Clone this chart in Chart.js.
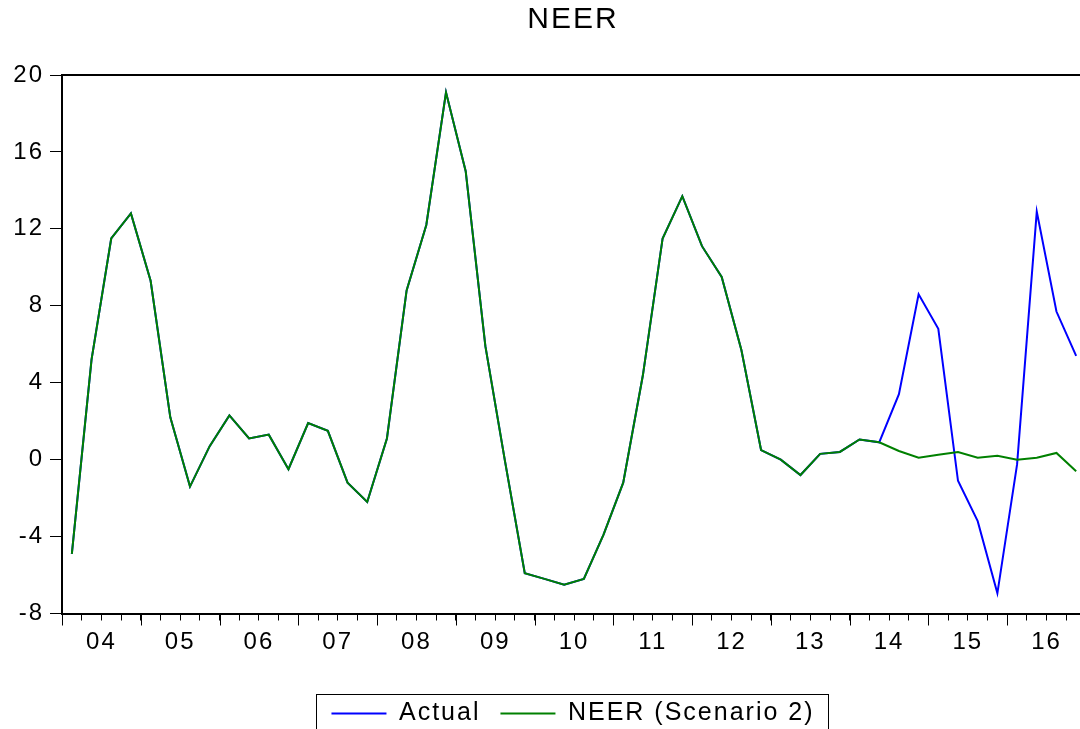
<!DOCTYPE html>
<html>
<head>
<meta charset="utf-8">
<title>NEER</title>
<script src="https://cdn.jsdelivr.net/npm/chart.js@4.4.1/dist/chart.umd.min.js"></script>
<style>
  html, body { margin: 0; padding: 0; background: #fff; overflow: hidden; }
  #wrap { position: absolute; left: 0; top: 0; width: 1146px; height: 760px; }
</style>
</head>
<body>
<div id="wrap"><canvas id="neerChart"></canvas></div>
<script>
// quarterly data, 2004Q1 .. 2016Q4
const yearLabels = ['04', '05', '06', '07', '08', '09', '10', '11', '12', '13', '14', '15', '16'];

const actual = [
  -4.9, 5.2, 11.5, 12.8, 9.3, 2.2, -1.4, 0.7, 2.3, 1.1, 1.3, -0.5,
  1.9, 1.5, -1.2, -2.2, 1.1, 8.8, 12.2, 19.1, 15.0, 5.9, -0.1, -5.9,
  -6.2, -6.5, -6.2, -3.9, -1.2, 4.4, 11.5, 13.7, 11.1, 9.5, 5.7, 0.5,
  0.0, -0.8, 0.3, 0.4, 1.05, 0.9, 3.4, 8.6, 6.8, -1.1, -3.2, -6.95,
  -0.25, 12.9, 7.7, 5.4
];

const scenario2 = [
  -4.9, 5.2, 11.5, 12.8, 9.3, 2.2, -1.4, 0.7, 2.3, 1.1, 1.3, -0.5,
  1.9, 1.5, -1.2, -2.2, 1.1, 8.8, 12.2, 19.1, 15.0, 5.9, -0.1, -5.9,
  -6.2, -6.5, -6.2, -3.9, -1.2, 4.4, 11.5, 13.7, 11.1, 9.5, 5.7, 0.5,
  0.0, -0.8, 0.3, 0.4, 1.05, 0.9, 0.45, 0.1, 0.25, 0.4, 0.1, 0.2,
  0.0, 0.1, 0.35, -0.6
];

// each quarter sits in the middle of its slot on the x axis
const toPoints = arr => arr.map((v, i) => ({ x: i + 0.5, y: v }));

const FONT = "'Liberation Sans', Arial, sans-serif";
Chart.defaults.font.family = FONT;
Chart.defaults.color = '#000';

const framePlugin = {
  id: 'frame',
  beforeLayout(chart) { chart.ctx.letterSpacing = '2px'; },
  beforeDraw(chart) { chart.ctx.letterSpacing = '2px'; },
  afterDraw(chart) {
    const { ctx, chartArea: a } = chart;
    const x = chart.scales.x;
    ctx.save();
    ctx.strokeStyle = '#000';
    ctx.lineWidth = 2;
    ctx.beginPath();
    ctx.moveTo(a.left, a.top);
    ctx.lineTo(a.right, a.top);
    ctx.lineTo(a.right, a.bottom);
    ctx.stroke();

    // long ticks at year boundaries
    ctx.lineWidth = 1;
    ctx.beginPath();
    for (let v = 0; v <= x.max; v += 4) {
      const px = Math.round(x.getPixelForValue(v)) + 0.5;
      ctx.moveTo(px, a.bottom);
      ctx.lineTo(px, a.bottom + 12);
    }
    ctx.stroke();

    // frame round the legend
    const boxes = chart.legend.legendHitBoxes;
    if (boxes && boxes.length) {
      const left = Math.min(...boxes.map(b => b.left)) - 15;
      const right = Math.max(...boxes.map(b => b.left + b.width)) + 14;
      const top = boxes[0].top - 7.5;
      ctx.lineWidth = 1;
      ctx.strokeRect(Math.round(left) + 0.5, Math.round(top) + 0.5, Math.round(right - left), 40);
    }
    ctx.restore();
  }
};

new Chart(document.getElementById('neerChart'), {
  type: 'line',
  data: {
    datasets: [
      {
        label: 'NEER (Scenario 2)',
        data: toPoints(scenario2),
        borderColor: '#008000',
        backgroundColor: '#008000',
        borderWidth: 2,
        pointRadius: 0,
        tension: 0
      },
      {
        label: 'Actual',
        data: toPoints(actual),
        borderColor: '#0000ff',
        backgroundColor: '#0000ff',
        borderWidth: 2,
        pointRadius: 0,
        tension: 0
      }
    ]
  },
  options: {
    responsive: true,
    maintainAspectRatio: false,
    animation: false,
    layout: { padding: { left: 0, right: 0, top: 0, bottom: 24 } },
    plugins: {
      title: {
        display: true,
        text: 'NEER',
        color: '#000',
        font: { size: 30, weight: 'normal' },
        padding: { top: 2, bottom: 37 }
      },
      legend: {
        position: 'bottom',
        reverse: true,
        labels: {
          usePointStyle: true,
          pointStyle: 'line',
          pointStyleWidth: 55,
          color: '#000',
          font: { size: 25 },
          padding: 20
        }
      },
      tooltip: { enabled: false }
    },
    scales: {
      x: {
        type: 'linear',
        min: 0,
        max: 52,
        afterFit: s => { s.height = 67.5; },
        border: { color: '#000', width: 2 },
        grid: { drawOnChartArea: false, color: '#000', tickLength: 7, tickWidth: 1 },
        ticks: {
          stepSize: 1,
          autoSkip: false,
          maxRotation: 0,
          color: '#000',
          font: { size: 24 },
          padding: 7,
          callback: v => (v % 4 === 2 ? yearLabels[(v - 2) / 4] : '')
        }
      },
      y: {
        min: -8,
        max: 20,
        afterFit: s => { s.width = 62; },
        border: { color: '#000', width: 2 },
        grid: { drawOnChartArea: false, color: '#000', tickLength: 12, tickWidth: 1 },
        ticks: { stepSize: 4, color: '#000', font: { size: 24 }, padding: 6 }
      },
      // empty right margin so the frame ends where the reference crop ends
      yRight: {
        position: 'right',
        min: -8,
        max: 20,
        afterFit: s => { s.width = 60; },
        border: { display: false },
        grid: { display: false },
        ticks: { display: false }
      }
    }
  },
  plugins: [framePlugin]
});
</script>
</body>
</html>
